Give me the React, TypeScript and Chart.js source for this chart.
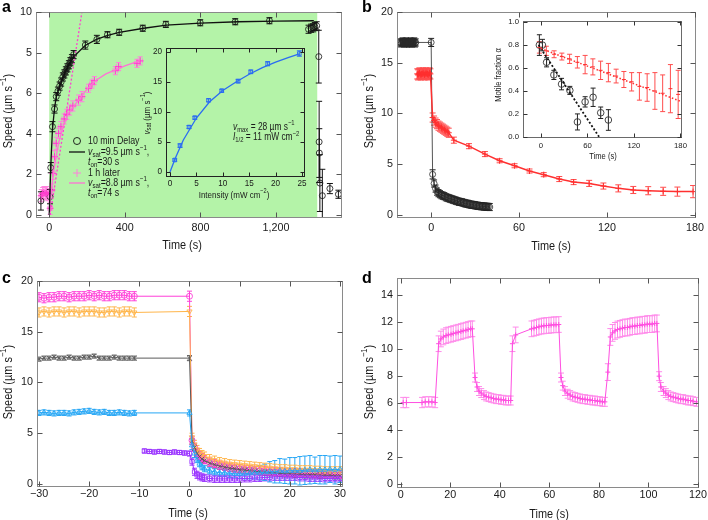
import React, { useEffect, useRef } from 'react';
import { Chart, registerables } from 'chart.js';
Chart.register(...registerables);

// ---------------- DATA ----------------
// Panel a: 10 min delay (black circles)
const A_DELAY_T = [-44, 4, 8, 17, 28, 37, 46, 55, 63, 72, 80, 88, 96, 104, 112, 120, 129, 191, 252, 308, 370, 495, 617, 799, 984, 1165, 1372, 1385, 1395, 1405, 1415, 1426, 1428, 1429, 1432, 1445, 1485, 1530];
const A_DELAY_V = [0.69, 0.9, 2.33, 4.35, 5.22, 5.83, 6.1, 6.35, 6.55, 6.8, 6.95, 7.1, 7.25, 7.4, 7.55, 7.7, 7.9, 8.37, 8.65, 8.88, 9.0, 9.2, 9.39, 9.47, 9.52, 9.57, 9.15, 9.2, 9.22, 9.28, 9.32, 7.8, 3.6, 3.05, 1.57, 0.95, 1.3, 1.02];
const A_DELAY_E = [0.45, 0.35, 0.25, 0.25, 0.2, 0.2, 0.2, 0.2, 0.2, 0.2, 0.2, 0.2, 0.2, 0.2, 0.2, 0.2, 0.2, 0.2, 0.2, 0.15, 0.15, 0.15, 0.15, 0.15, 0.15, 0.15, 0.2, 0.2, 0.2, 0.2, 0.2, 1.3, 2.0, 1.2, 1.4, 1.3, 0.25, 0.2];
// Panel a: 1 h later (pink crosses)
const A_LATER_T = [-42, -35, -28, -21, -14, -7, 5, 14, 19, 28, 37, 49, 62, 79, 93, 108, 125, 155, 173, 208, 226, 239, 350, 367, 464, 481];
const A_LATER_V = [0.95, 1.05, 1.1, 1.05, 1.1, 1.0, 0.33, 1.23, 2.05, 2.87, 3.53, 4.02, 4.35, 4.73, 4.96, 5.17, 5.37, 5.66, 5.83, 6.24, 6.45, 6.62, 7.11, 7.31, 7.47, 7.59];
const A_LATER_E = [0.3, 0.3, 0.3, 0.3, 0.3, 0.3, 0.3, 0.3, 0.3, 0.3, 0.3, 0.25, 0.25, 0.25, 0.25, 0.25, 0.25, 0.25, 0.25, 0.2, 0.2, 0.2, 0.2, 0.2, 0.2, 0.2];
const A_LATER_EX = [12, 12, 12, 12, 12, 12, 12, 12, 12, 12, 12, 12, 12, 12, 12, 12, 12, 12, 12, 12, 12, 12, 12, 12, 12, 12];
// fits
const A_FIT1_T = [0, 5, 10, 17, 28, 37, 50, 60, 80, 100, 130, 190, 250, 310, 370, 500, 620, 800, 1000, 1200, 1400];
const A_FIT1_V = [0, 1.5, 2.8, 4.2, 5.25, 5.8, 6.2, 6.45, 6.95, 7.35, 7.8, 8.35, 8.65, 8.85, 9.0, 9.2, 9.35, 9.45, 9.52, 9.55, 9.57];
const A_FIT2_T = [0, 10, 20, 30, 50, 75, 100, 150, 200, 250, 300, 350, 400, 480];
const A_FIT2_V = [0, 1.05, 1.9, 2.55, 3.55, 4.4, 5.0, 5.6, 6.2, 6.65, 6.95, 7.15, 7.35, 7.6];
const A_SLOPE_T = [5, 173];
const A_SLOPE_V = [0, 10];
const A_X_TICKS = [0, 400, 800, 1200];
const A_X_LABELS = ['0', '400', '800', '1,200'];
const A_Y_TICKS = [0, 2, 4, 6, 8, 10];
const A_Y_LABELS = ['0', '2', '4', '6', '5', '10'];
const A_LIGHT = [0, 1418];

// Panel a inset
const IA_I = [0.9, 1.9, 3.6, 4.7, 7.3, 9.8, 12.9, 15.3, 18.5, 24.5];
const IA_V = [2.0, 4.4, 7.5, 9.05, 11.95, 13.55, 15.15, 16.7, 18.05, 19.75];
const IA_E = [0.2, 0.3, 0.25, 0.25, 0.25, 0.25, 0.3, 0.3, 0.35, 0.45];
const IA_FIT_I = [0, 1, 2.5, 5, 7.5, 10, 12.5, 15, 17.5, 20, 22.5, 24.5];
const IA_FIT_V = [0, 2.3, 5.3, 9.0, 11.7, 13.6, 15.0, 16.3, 17.4, 18.3, 19.1, 19.7];
const IA_X_TICKS = [0, 5, 10, 15, 20, 25];
const IA_Y_TICKS = [0, 5, 10, 15, 20];

// Panel b
const B_BLACK_T = [-21, -20.5, -20, -19.5, -19, -18.5, -18, -17.5, -17, -16.5, -16, -15.5, -15, -14.5, -14, -13.5, -13, -12.5, -12, -11.5, -11, -10.5, 0,
  1, 2, 3, 4, 5, 6, 7, 8, 9, 10, 11, 12, 13, 14, 15, 16, 17, 18, 19, 20, 21, 22, 23, 24, 25, 26, 27, 28, 29, 30, 31, 32, 33, 34, 35, 36, 37, 38, 39, 40];
const B_BLACK_V = [17.0, 16.9, 17.0, 17.1, 17.0, 16.9, 17.0, 17.0, 17.1, 16.9, 17.0, 17.0, 16.9, 17.0, 17.1, 17.0, 16.9, 17.0, 17.0, 17.1, 16.9, 17.0, 17.0,
  4.0, 3.1, 2.6, 2.3, 2.15, 2.05, 1.95, 1.9, 1.85, 1.75, 1.7, 1.65, 1.6, 1.55, 1.5, 1.45, 1.4, 1.35, 1.3, 1.28, 1.25, 1.2, 1.15, 1.12, 1.1, 1.05, 1.02, 1.0, 0.98, 0.95, 0.92, 0.9, 0.88, 0.86, 0.85, 0.83, 0.82, 0.8, 0.8, 0.78];
const B_RED_T = [-9.5, -9, -8.5, -8, -7.5, -7, -6.5, -6, -5.5, -5, -4.5, -4, -3.5, -3, -2.5, -2, -1.5, -1, -0.5,
  1, 2, 3, 4, 5, 6, 7, 8, 9, 10, 11, 12,
  15.5, 25.8, 36.7, 46.7, 56.9, 67.1, 76.8, 87.4, 97.2, 107.8, 117.5, 127.7, 137.9, 148.1, 158.3, 168, 178.7];
const B_RED_V = [13.9, 13.8, 13.9, 14.0, 13.9, 13.8, 13.9, 13.9, 14.0, 13.9, 13.8, 13.9, 14.0, 13.9, 13.9, 13.8, 13.9, 14.0, 13.9,
  9.6, 9.3, 9.1, 8.95, 8.8, 8.7, 8.6, 8.5, 8.4, 8.3, 8.2, 8.1,
  7.37, 6.78, 6.0, 5.34, 4.85, 4.33, 3.97, 3.54, 3.24, 3.11, 2.85, 2.62, 2.46, 2.39, 2.33, 2.3, 2.3];
const B_RED_E_SPARSE = [0.3, 0.25, 0.25, 0.2, 0.2, 0.2, 0.2, 0.25, 0.25, 0.3, 0.3, 0.35, 0.35, 0.4, 0.4, 0.45, 0.6];
const B_X_TICKS = [0, 60, 120, 180];
const B_Y_TICKS = [0, 5, 10, 15, 20];

// Panel b inset
const IB_BLACK_T = [-2, 2, 7.3, 16.7, 26.6, 37.3, 47.1, 57, 67.3, 77.1, 87];
const IB_BLACK_V = [0.8, 0.8, 0.65, 0.54, 0.46, 0.405, 0.13, 0.305, 0.345, 0.21, 0.147];
const IB_BLACK_E = [0.09, 0.05, 0.04, 0.04, 0.05, 0.035, 0.07, 0.045, 0.08, 0.05, 0.09];
const IB_BLACK_FIT_T = [-3, 75];
const IB_BLACK_FIT_V = [0.8, 0.0];
const IB_RED_T = [-2, 7, 17, 27, 37, 47, 57, 67, 77, 87, 97, 107, 117, 127, 137, 147, 157, 167, 177];
const IB_RED_V = [0.78, 0.75, 0.72, 0.7, 0.68, 0.65, 0.63, 0.61, 0.58, 0.56, 0.53, 0.5, 0.48, 0.44, 0.43, 0.4, 0.38, 0.42, 0.37];
const IB_RED_E = [0.05, 0.04, 0.03, 0.03, 0.04, 0.05, 0.08, 0.07, 0.08, 0.08, 0.06, 0.07, 0.08, 0.12, 0.12, 0.16, 0.16, 0.21, 0.21];
const IB_RED_FIT_T = [0, 180];
const IB_RED_FIT_V = [0.77, 0.31];
const IB_X_TICKS = [0, 60, 120, 180];
const IB_Y_TICKS = [0, 0.2, 0.4, 0.6, 0.8, 1.0];
const IB_Y_LABELS = ['0.0', '0.2', '0.4', '0.6', '0.8', '1.0'];

// Panel c
const C_T_PRE = [-30, -29, -28, -27, -26, -25, -24, -23, -22, -21, -20, -19, -18, -17, -16, -15, -14, -13, -12, -11];
const C_T_PRE_PURPLE = [-9, -8, -7, -6, -5, -4, -3, -2, -1];
const C_T_POST = [0, 0.5, 1, 1.5, 2, 2.5, 3, 4, 5, 6, 7, 8, 9, 10, 11, 12, 13, 14, 15, 16, 17, 18, 19, 20, 21, 22, 23, 24, 25, 26, 27, 28, 29, 30];
const C_MAG_PRE = [18.4, 18.3, 18.4, 18.4, 18.5, 18.5, 18.4, 18.5, 18.5, 18.5, 18.6, 18.5, 18.6, 18.5, 18.5, 18.6, 18.6, 18.6, 18.5, 18.5];
const C_MAG_POST = [18.5, 4.3, 3.6, 3.1, 2.8, 2.6, 2.4, 2.15, 2.0, 1.85, 1.75, 1.65, 1.55, 1.5, 1.45, 1.4, 1.35, 1.3, 1.3, 1.25, 1.2, 1.2, 1.15, 1.1, 1.1, 1.1, 1.05, 1.05, 1.0, 1.0, 1.0, 0.95, 0.95, 0.95];
const C_ORA_PRE = [16.9, 17.0, 16.9, 17.0, 17.0, 16.9, 17.0, 17.0, 16.9, 17.0, 17.0, 17.0, 16.9, 16.9, 17.0, 17.0, 16.9, 17.0, 17.0, 16.9];
const C_ORA_POST = [17.0, 4.6, 3.9, 3.4, 3.1, 2.9, 2.75, 2.5, 2.35, 2.2, 2.1, 2.0, 1.95, 1.9, 1.85, 1.8, 1.75, 1.7, 1.65, 1.6, 1.55, 1.5, 1.5, 1.45, 1.45, 1.4, 1.4, 1.4, 1.35, 1.35, 1.3, 1.3, 1.3, 1.3];
const C_GRY_PRE = [12.3, 12.4, 12.4, 12.5, 12.4, 12.4, 12.5, 12.4, 12.4, 12.5, 12.5, 12.6, 12.4, 12.4, 12.4, 12.5, 12.4, 12.4, 12.4, 12.4];
const C_GRY_POST = [12.4, 4.2, 3.6, 3.0, 2.7, 2.45, 2.3, 2.05, 1.9, 1.75, 1.65, 1.55, 1.5, 1.4, 1.35, 1.3, 1.25, 1.2, 1.15, 1.1, 1.1, 1.05, 1.0, 1.0, 0.95, 0.95, 0.9, 0.9, 0.9, 0.85, 0.85, 0.85, 0.8, 0.8];
const C_CYA_PRE = [7.0, 7.05, 7.0, 6.95, 7.0, 7.0, 6.95, 7.05, 7.1, 7.15, 7.2, 7.1, 7.05, 7.1, 7.0, 7.0, 7.05, 7.0, 6.95, 7.0];
const C_CYA_POST = [7.0, 3.8, 3.0, 2.4, 2.0, 1.7, 1.5, 1.3, 1.2, 1.1, 1.1, 1.05, 1.0, 1.0, 1.0, 1.05, 1.1, 1.1, 1.15, 1.2, 1.2, 1.3, 1.25, 1.3, 1.3, 1.3, 1.35, 1.4, 1.35, 1.4, 1.4, 1.45, 1.4, 1.45];
const C_CYA_POST_E = [0.3, 0.4, 0.4, 0.3, 0.3, 0.3, 0.3, 0.3, 0.3, 0.35, 0.35, 0.4, 0.4, 0.45, 0.5, 0.55, 0.6, 0.7, 0.8, 1.0, 1.1, 1.2, 1.2, 1.3, 1.3, 1.4, 1.4, 1.4, 1.3, 1.4, 1.4, 1.3, 1.4, 1.3];
const C_PUR_PRE = [3.25, 3.2, 3.15, 3.2, 3.15, 3.1, 3.15, 3.1, 3.05];
const C_PUR_POST = [3.0, 2.2, 1.2, 0.9, 0.75, 0.65, 0.6, 0.55, 0.5, 0.5, 0.5, 0.5, 0.5, 0.5, 0.55, 0.55, 0.6, 0.6, 0.65, 0.65, 0.7, 0.7, 0.7, 0.7, 0.7, 0.65, 0.65, 0.6, 0.6, 0.6, 0.55, 0.55, 0.55, 0.55];
const C_X_TICKS = [-30, -20, -10, 0, 10, 20, 30];
const C_X_LABELS = ['\u221230', '\u221220', '\u221210', '0', '10', '20', '30'];
const C_Y_TICKS = [0, 5, 10, 15, 20];

// Panel d
const D_T = [1, 2.3, 8.6, 9.9, 11.3, 12.6, 13.9,
  15.3, 16.2, 17.2, 18.3, 19.2, 20.3, 21.2, 22.3, 23.2, 24.3, 25.2, 26.3, 27.2, 28.2, 28.9,
  30, 30.8, 31.6, 32.5, 33.6, 34.5, 35.5, 36.5, 37.5, 38.5, 39.5, 40.5, 41.5, 42.4, 43.5, 44.4,
  45.1, 46.4, 52.8, 53.8, 54.8, 55.8, 56.8, 57.8, 58.8, 59.8, 60.7, 61.8, 62.7, 63.8,
  64.7, 65.4, 66.3, 67.4, 68.4, 69.4, 70.4, 71.4, 72.4, 73.4, 74.4, 75.4, 76.4, 77.4, 78.4, 79.4, 80.4, 81.4, 82.4,
  83.6, 84.6, 85.5, 86.5, 87.5, 88.5, 89.5, 90.5, 91.5, 92.5, 93.5, 94.5, 95.5, 96.5, 97.5, 98.5, 99.5, 100.5, 101.5, 102.5, 103.4,
  104.3, 105, 106.1, 107, 108, 109, 110, 111, 112, 113, 114, 115, 116, 117, 118, 119.4];
const D_V = [6.05, 6.05, 6.05, 6.1, 6.1, 6.1, 6.05,
  10.4, 10.75, 10.9, 11.0, 11.05, 11.1, 11.15, 11.2, 11.25, 11.3, 11.35, 11.4, 11.45, 11.5, 11.5,
  7.9, 7.2, 6.9, 6.75, 6.6, 6.5, 6.45, 6.4, 6.35, 6.3, 6.3, 6.25, 6.25, 6.2, 6.2, 6.2,
  10.4, 11.05, 11.5, 11.55, 11.6, 11.65, 11.7, 11.72, 11.75, 11.75, 11.78, 11.8, 11.8, 11.82,
  7.9, 7.3, 6.9, 6.7, 6.6, 6.5, 6.45, 6.4, 6.35, 6.3, 6.3, 6.25, 6.25, 6.2, 6.2, 6.15, 6.15, 6.1, 6.1,
  8.3, 10.9, 11.2, 11.35, 11.45, 11.5, 11.55, 11.6, 11.6, 11.65, 11.7, 11.7, 11.75, 11.75, 11.8, 11.8, 11.85, 11.85, 11.85, 11.9, 11.9,
  8.0, 7.2, 6.9, 6.75, 6.6, 6.5, 6.45, 6.4, 6.35, 6.3, 6.3, 6.25, 6.2, 6.2, 6.15, 6.1];
const D_PHASE_N = [7, 15, 16, 14, 19, 21, 16];
const D_PHASE_E = [0.38, 0.58, 0.33, 0.58, 0.33, 0.62, 0.33];
const D_X_TICKS = [0, 20, 40, 60, 80, 100, 120];
const D_Y_TICKS = [0, 2, 4, 6, 8, 10, 12, 14];

// ---------------- helpers ----------------
const rep = (v: number, n: number): number[] => new Array(n).fill(v);
const pts = (xs: number[], ys: number[]) => xs.map((x, i) => ({ x, y: ys[i] }));
const lbl = (a: number[]) => a.map((v) => String(v));

const FONT = { fam: '"Liberation Sans", Arial, sans-serif', xs: 0.84, tickScale: 0.86 };
function fontAvailable(name: string): boolean {
  try {
    const ctx = document.createElement('canvas').getContext('2d');
    if (!ctx) return false;
    const s = 'abcdefghijklmnopqrstuvwxyzWM0123456789';
    ctx.font = '40px monospace';
    const a = ctx.measureText(s).width;
    ctx.font = `40px "${name}", monospace`;
    const b = ctx.measureText(s).width;
    ctx.font = '40px serif';
    const c = ctx.measureText(s).width;
    ctx.font = `40px "${name}", serif`;
    const d = ctx.measureText(s).width;
    return a !== b || c !== d;
  } catch (e) {
    return false;
  }
}
function initFont() {
  if (fontAvailable('Liberation Sans Narrow')) {
    FONT.fam = '"Liberation Sans Narrow", "Liberation Sans", Arial, sans-serif';
    FONT.xs = 1;
    FONT.tickScale = 1;
  }
}

type Seg = { t: string; sup?: boolean; sub?: boolean; it?: boolean };
type TextItem = { segs: Seg[]; x: number; y: number; size: number; align?: 'left' | 'center'; rot?: boolean; color?: string; bold?: boolean; base?: CanvasTextBaseline };

function drawText(ctx: CanvasRenderingContext2D, t: TextItem) {
  const fam = t.bold ? '"Liberation Sans", Arial, sans-serif' : FONT.fam;
  const xs = t.bold ? 1 : FONT.xs;
  ctx.save();
  ctx.translate(t.x, t.y);
  if (t.rot) ctx.rotate(-Math.PI / 2);
  ctx.scale(xs, 1);
  ctx.fillStyle = t.color || '#1a1a1a';
  ctx.textAlign = 'left';
  ctx.textBaseline = t.base || 'middle';
  const fonts = t.segs.map((s) => `${t.bold ? 'bold ' : ''}${s.it ? 'italic ' : ''}${s.sup || s.sub ? t.size * 0.7 : t.size}px ${fam}`);
  const widths = t.segs.map((s, i) => {
    ctx.font = fonts[i];
    return ctx.measureText(s.t).width;
  });
  const total = widths.reduce((a, b) => a + b, 0);
  let cx = t.align === 'center' ? -total / 2 : 0;
  t.segs.forEach((s, i) => {
    ctx.font = fonts[i];
    const dy = s.sup ? -t.size * 0.36 : s.sub ? t.size * 0.28 : 0;
    ctx.fillText(s.t, cx, dy);
    cx += widths[i];
  });
  ctx.restore();
}

const SPEED: Seg[] = [{ t: 'Speed (\u00b5m s' }, { t: '\u22121', sup: true }, { t: ')' }];
const TIME: Seg[] = [{ t: 'Time (s)' }];

interface PanelCfg {
  canvas: HTMLCanvasElement;
  xr: [number, number];
  yr: [number, number];
  xTicks: number[];
  yTicks: number[];
  xLabels: string[];
  yLabels: string[];
  pad: { left: number; right: number; top: number; bottom: number };
  yW: number;
  xH: number;
  tickSize: number;
  xPad: number;
  yPad: number;
  frame: string;
  tickCol: string;
  tickLen: number;
  datasets: any[];
  texts: TextItem[];
  green?: { from: number; to: number; color: string };
  extra?: (ctx: CanvasRenderingContext2D) => void;
}

function makePanel(c: PanelCfg): Chart {
  const deco = {
    id: 'deco',
    beforeDatasetsDraw(chart: any) {
      const ctx: CanvasRenderingContext2D = chart.ctx;
      const ca = chart.chartArea;
      const xs = chart.scales.x;
      const ys = chart.scales.y;
      if (c.green) {
        const x0 = xs.getPixelForValue(c.green.from);
        const x1 = xs.getPixelForValue(c.green.to);
        ctx.save();
        ctx.fillStyle = c.green.color;
        ctx.fillRect(x0, ca.top, x1 - x0, ca.bottom - ca.top);
        ctx.restore();
      }
      ctx.save();
      ctx.beginPath();
      ctx.rect(ca.left, ca.top, ca.right - ca.left, ca.bottom - ca.top);
      ctx.clip();
      for (const ds of chart.data.datasets) {
        if (!ds.errY && !ds.errX) continue;
        ctx.strokeStyle = ds.errColor || ds.borderColor;
        ctx.lineWidth = ds.errWidth || 1;
        const cap = ds.cap ?? 3;
        ctx.beginPath();
        ds.data.forEach((p: any, i: number) => {
          const px = xs.getPixelForValue(p.x);
          const py = ys.getPixelForValue(p.y);
          if (ds.errY) {
            const e = ds.errY[i];
            const y0 = ys.getPixelForValue(p.y - e);
            const y1 = ys.getPixelForValue(p.y + e);
            ctx.moveTo(px, y0); ctx.lineTo(px, y1);
            ctx.moveTo(px - cap, y0); ctx.lineTo(px + cap, y0);
            ctx.moveTo(px - cap, y1); ctx.lineTo(px + cap, y1);
          }
          if (ds.errX) {
            const e = ds.errX[i];
            const x0 = xs.getPixelForValue(p.x - e);
            const x1 = xs.getPixelForValue(p.x + e);
            ctx.moveTo(x0, py); ctx.lineTo(x1, py);
            ctx.moveTo(x0, py - cap); ctx.lineTo(x0, py + cap);
            ctx.moveTo(x1, py - cap); ctx.lineTo(x1, py + cap);
          }
        });
        ctx.stroke();
      }
      ctx.restore();
    },
    afterDatasetsDraw(chart: any) {
      const ctx: CanvasRenderingContext2D = chart.ctx;
      const ca = chart.chartArea;
      const xs = chart.scales.x;
      const ys = chart.scales.y;
      const L = Math.round(ca.left) + 0.5;
      const R = Math.round(ca.right) - 0.5;
      const T = Math.round(ca.top) + 0.5;
      const B = Math.round(ca.bottom) - 0.5;
      ctx.save();
      ctx.lineWidth = 1;
      ctx.strokeStyle = c.frame;
      ctx.strokeRect(L, T, R - L, B - T);
      ctx.strokeStyle = c.tickCol;
      ctx.beginPath();
      for (const v of c.xTicks) {
        const p = Math.round(xs.getPixelForValue(v)) + 0.5;
        ctx.moveTo(p, B); ctx.lineTo(p, B - c.tickLen);
        ctx.moveTo(p, T); ctx.lineTo(p, T + c.tickLen);
      }
      for (const v of c.yTicks) {
        const p = Math.round(ys.getPixelForValue(v)) + 0.5;
        ctx.moveTo(L, p); ctx.lineTo(L + c.tickLen, p);
        ctx.moveTo(R, p); ctx.lineTo(R - c.tickLen, p);
      }
      ctx.stroke();
      ctx.restore();
    },
    afterDraw(chart: any) {
      const ctx: CanvasRenderingContext2D = chart.ctx;
      for (const t of c.texts) drawText(ctx, t);
      if (c.extra) c.extra(ctx);
    },
  };
  const tickFont = { family: FONT.fam, size: c.tickSize * FONT.tickScale };
  return new Chart(c.canvas, {
    type: 'scatter',
    data: { datasets: c.datasets },
    options: {
      animation: false,
      responsive: false,
      events: [],
      layout: { padding: c.pad },
      plugins: { legend: { display: false }, tooltip: { enabled: false } },
      scales: {
        x: {
          type: 'linear',
          min: c.xr[0],
          max: c.xr[1],
          afterBuildTicks: (s: any) => { s.ticks = c.xTicks.map((v) => ({ value: v })); },
          afterFit: (s: any) => { s.height = c.xH; },
          grid: { display: false, drawTicks: false },
          border: { display: false },
          ticks: { autoSkip: false, maxRotation: 0, minRotation: 0, padding: c.xPad, color: '#1a1a1a', font: tickFont, callback: (_v: any, i: number) => c.xLabels[i] },
        },
        y: {
          type: 'linear',
          min: c.yr[0],
          max: c.yr[1],
          afterBuildTicks: (s: any) => { s.ticks = c.yTicks.map((v) => ({ value: v })); },
          afterFit: (s: any) => { s.width = c.yW; },
          grid: { display: false, drawTicks: false },
          border: { display: false },
          ticks: { autoSkip: false, padding: c.yPad, color: '#1a1a1a', font: tickFont, callback: (_v: any, i: number) => c.yLabels[i] },
        },
      },
    } as any,
    plugins: [deco as any],
  });
}

const NONE = 'rgba(0,0,0,0)';
const PINK = '#ff3fcf';
const PINK_ERR = '#ff80dc';
const PINK_FIT = '#ff72d6';
const BLUE = '#2b6cf2';
const RED = '#ff3030';
const RED_ERR = '#ff4d4d';
const MAG = '#ff3fd8';
const ORA = '#ffb54a';
const GRY = '#5a5a5a';
const CYA = '#25a6f5';
const PUR = '#9b35ff';
const DCOL = '#ff4fe0';
const DERR = '#ff8bea';

const CANVASES = [
  { l: 0, t: 0, w: 354, h: 260 },
  { l: 354, t: 0, w: 354, h: 260 },
  { l: 0, t: 260, w: 354, h: 260 },
  { l: 354, t: 260, w: 354, h: 260 },
  { l: 135, t: 38, w: 180, h: 172 },
  { l: 490, t: 12, w: 200, h: 158 },
];

function cSeries(tPre: number[], vPre: number[], vPost: number[], ePre: number, e0: number, ePost: number[], color: string, style: string, rot = 0) {
  return {
    data: pts([...tPre, ...C_T_POST], [...vPre, ...vPost]),
    showLine: true,
    borderColor: color,
    backgroundColor: NONE,
    borderWidth: 1,
    pointStyle: style,
    pointRotation: rot,
    pointRadius: 3,
    pointBorderWidth: 0.9,
    errY: [...rep(ePre, tPre.length), e0, ...ePost],
    errColor: color,
    cap: 2.5,
  };
}

export default function App() {
  const r0 = useRef<HTMLCanvasElement>(null);
  const r1 = useRef<HTMLCanvasElement>(null);
  const r2 = useRef<HTMLCanvasElement>(null);
  const r3 = useRef<HTMLCanvasElement>(null);
  const r4 = useRef<HTMLCanvasElement>(null);
  const r5 = useRef<HTMLCanvasElement>(null);
  const refs = [r0, r1, r2, r3, r4, r5];

  useEffect(() => {
    initFont();
    const main = { frame: '#8a8a8a', tickCol: '#555', tickLen: 5, tickSize: 12.5 };
    const charts: Chart[] = [];

    // ---- panel a ----
    charts.push(makePanel({
      ...main,
      canvas: r0.current!,
      xr: [-70, 1549], yr: [-0.15, 10],
      xTicks: A_X_TICKS, yTicks: A_Y_TICKS, xLabels: A_X_LABELS, yLabels: A_Y_LABELS,
      pad: { left: 0, right: 12, top: 12, bottom: 0 }, yW: 36, xH: 42, xPad: 4, yPad: 4,
      green: { from: A_LIGHT[0], to: A_LIGHT[1], color: '#b4f3a8' },
      datasets: [
        { data: pts(A_FIT1_T, A_FIT1_V), showLine: true, pointRadius: 0, borderColor: '#111', borderWidth: 1.3 },
        { data: pts(A_FIT2_T, A_FIT2_V), showLine: true, pointRadius: 0, borderColor: PINK_FIT, borderWidth: 1.3 },
        { data: pts(A_SLOPE_T, A_SLOPE_V), showLine: true, pointRadius: 0, borderColor: PINK, borderWidth: 1.3, borderDash: [2, 2] },
        { data: pts(A_LATER_T, A_LATER_V), showLine: false, pointStyle: 'cross', pointRadius: 3.5, borderColor: PINK, backgroundColor: NONE, pointBorderWidth: 1, errY: A_LATER_E, errX: A_LATER_EX, errColor: PINK_ERR, cap: 2.5 },
        { data: pts(A_DELAY_T, A_DELAY_V), showLine: false, pointStyle: 'circle', pointRadius: 3, borderColor: '#111', backgroundColor: NONE, pointBorderWidth: 0.8, errY: A_DELAY_E, errColor: '#111', cap: 3 },
      ],
      texts: [
        { segs: [{ t: 'a' }], x: 2, y: 12, size: 16, bold: true, base: 'alphabetic', color: '#000' },
        { segs: TIME, x: 182, y: 245, size: 13, align: 'center' },
        { segs: SPEED, x: 8, y: 111, size: 13, align: 'center', rot: true },
        { segs: [{ t: '10 min Delay' }], x: 88, y: 141, size: 10.5 },
        { segs: [{ t: 'v', it: true }, { t: 'sat', sub: true }, { t: '=9.5 \u00b5m s' }, { t: '\u22121', sup: true }, { t: ',' }], x: 88, y: 152, size: 10.5 },
        { segs: [{ t: 't', it: true }, { t: 'on', sub: true }, { t: '=30 s' }], x: 88, y: 162.5, size: 10.5 },
        { segs: [{ t: '1 h later' }], x: 88, y: 173, size: 10.5 },
        { segs: [{ t: 'v', it: true }, { t: 'sat', sub: true }, { t: '=8.8 \u00b5m s' }, { t: '\u22121', sup: true }, { t: ',' }], x: 88, y: 183, size: 10.5 },
        { segs: [{ t: 't', it: true }, { t: 'on', sub: true }, { t: '=74 s' }], x: 88, y: 193.5, size: 10.5 },
      ],
      extra: (ctx) => {
        ctx.save();
        ctx.strokeStyle = '#111';
        ctx.lineWidth = 0.9;
        ctx.beginPath(); ctx.arc(77, 141, 3.5, 0, Math.PI * 2); ctx.stroke();
        ctx.lineWidth = 1.3;
        ctx.beginPath(); ctx.moveTo(69, 152); ctx.lineTo(85, 152); ctx.stroke();
        ctx.strokeStyle = PINK_ERR; ctx.lineWidth = 1;
        ctx.beginPath(); ctx.moveTo(73, 173); ctx.lineTo(81, 173); ctx.moveTo(77, 169); ctx.lineTo(77, 177); ctx.stroke();
        ctx.strokeStyle = PINK_FIT; ctx.lineWidth = 1.3;
        ctx.beginPath(); ctx.moveTo(69, 183); ctx.lineTo(85, 183); ctx.stroke();
        ctx.restore();
      },
    }));

    // ---- panel b ----
    charts.push(makePanel({
      ...main,
      canvas: r1.current!,
      xr: [-23.3, 180.9], yr: [-0.3, 20],
      xTicks: B_X_TICKS, yTicks: B_Y_TICKS, xLabels: lbl(B_X_TICKS), yLabels: lbl(B_Y_TICKS),
      pad: { left: 0, right: 11, top: 12, bottom: 0 }, yW: 43, xH: 42, xPad: 4, yPad: 4,
      datasets: [
        { data: pts(B_RED_T, B_RED_V), showLine: true, borderColor: RED, backgroundColor: NONE, borderWidth: 1.5, pointStyle: 'cross', pointRadius: 3, pointBorderWidth: 1, errY: [...rep(0.5, 19), ...rep(0.45, 12), ...B_RED_E_SPARSE], errColor: RED_ERR, cap: 3 },
        { data: pts(B_BLACK_T, B_BLACK_V), showLine: true, borderColor: '#2a2a2a', backgroundColor: NONE, borderWidth: 0.8, pointStyle: 'circle', pointRadius: 3, pointBorderWidth: 0.8, errY: [...rep(0.35, 22), 0.4, 0.45, ...rep(0.35, 39)], errColor: '#222', cap: 3 },
      ],
      texts: [
        { segs: [{ t: 'b' }], x: 8, y: 12, size: 16, bold: true, base: 'alphabetic', color: '#000' },
        { segs: TIME, x: 197, y: 246, size: 13, align: 'center' },
        { segs: SPEED, x: 15, y: 111, size: 13, align: 'center', rot: true },
      ],
    }));

    // ---- panel c ----
    charts.push(makePanel({
      ...main,
      canvas: r2.current!,
      xr: [-30.4, 30.6], yr: [-0.3, 20],
      xTicks: C_X_TICKS, yTicks: C_Y_TICKS, xLabels: C_X_LABELS, yLabels: lbl(C_Y_TICKS),
      pad: { left: 0, right: 11, top: 21, bottom: 0 }, yW: 37, xH: 33, xPad: 1, yPad: 4,
      datasets: [
        cSeries(C_T_PRE_PURPLE, C_PUR_PRE, C_PUR_POST, 0.2, 0.25, rep(0.35, 33), PUR, 'rect'),
        cSeries(C_T_PRE, C_CYA_PRE, C_CYA_POST, 0.25, 0.3, C_CYA_POST_E.slice(1), CYA, 'triangle'),
        cSeries(C_T_PRE, C_GRY_PRE, C_GRY_POST, 0.2, 0.25, rep(0.3, 33), GRY, 'crossRot'),
        cSeries(C_T_PRE, C_ORA_PRE, C_ORA_POST, 0.45, 0.5, rep(0.4, 33), ORA, 'triangle', 180),
        cSeries(C_T_PRE, C_MAG_PRE, C_MAG_POST, 0.45, 0.5, rep(0.4, 33), MAG, 'circle'),
      ],
      texts: [
        { segs: [{ t: 'c' }], x: 2, y: 23, size: 16, bold: true, base: 'alphabetic', color: '#000' },
        { segs: TIME, x: 188, y: 253, size: 13, align: 'center' },
        { segs: SPEED, x: 8, y: 122, size: 13, align: 'center', rot: true },
      ],
    }));

    // ---- panel d ----
    const dErr: number[] = [];
    D_PHASE_N.forEach((n, i) => dErr.push(...rep(D_PHASE_E[i], n)));
    charts.push(makePanel({
      ...main,
      canvas: r3.current!,
      xr: [-1.5, 120.3], yr: [-0.27, 15.26],
      xTicks: D_X_TICKS, yTicks: D_Y_TICKS, xLabels: lbl(D_X_TICKS), yLabels: lbl(D_Y_TICKS),
      pad: { left: 0, right: 5, top: 18, bottom: 0 }, yW: 43, xH: 32, xPad: 1, yPad: 4,
      datasets: [
        { data: pts(D_T, D_V), showLine: true, borderColor: DCOL, backgroundColor: NONE, borderWidth: 1, pointStyle: 'cross', pointRadius: 2.5, pointBorderWidth: 1, errY: dErr, errColor: DERR, cap: 3 },
      ],
      texts: [
        { segs: [{ t: 'd' }], x: 8, y: 23, size: 16, bold: true, base: 'alphabetic', color: '#000' },
        { segs: TIME, x: 195, y: 254, size: 13, align: 'center' },
        { segs: SPEED, x: 15, y: 122, size: 13, align: 'center', rot: true },
      ],
    }));

    // ---- inset a ----
    charts.push(makePanel({
      canvas: r4.current!,
      frame: '#222', tickCol: '#222', tickLen: 4, tickSize: 9.5,
      xr: [-0.76, 25.57], yr: [-0.83, 20.67],
      xTicks: IA_X_TICKS, yTicks: IA_Y_TICKS, xLabels: lbl(IA_X_TICKS), yLabels: lbl(IA_Y_TICKS),
      pad: { left: 0, right: 10, top: 10, bottom: 0 }, yW: 31, xH: 33, xPad: 2, yPad: 4,
      datasets: [
        { data: pts(IA_FIT_I, IA_FIT_V), showLine: true, pointRadius: 0, borderColor: BLUE, borderWidth: 1.3 },
        { data: pts(IA_I, IA_V), showLine: false, pointStyle: 'rect', pointRadius: 2.5, borderColor: BLUE, backgroundColor: NONE, pointBorderWidth: 1, errY: IA_E, errColor: BLUE, cap: 2.5 },
      ],
      texts: [
        { segs: [{ t: 'Intensity (mW cm' }, { t: '\u22122', sup: true }, { t: ')' }], x: 99, y: 157, size: 9.5, align: 'center' },
        { segs: [{ t: 'v', it: true }, { t: 'sat', sub: true }, { t: ' (\u00b5m s' }, { t: '\u22121', sup: true }, { t: ')' }], x: 12, y: 75, size: 9.5, align: 'center', rot: true },
        { segs: [{ t: 'v', it: true }, { t: 'max', sub: true }, { t: ' = 28 \u00b5m s' }, { t: '\u22121', sup: true }], x: 98, y: 89, size: 10 },
        { segs: [{ t: 'I', it: true }, { t: '1/2', sub: true }, { t: ' = 11 mW cm' }, { t: '\u22122', sup: true }], x: 98, y: 99.5, size: 10 },
      ],
    }));

    // ---- inset b ----
    charts.push(makePanel({
      canvas: r5.current!,
      frame: '#6a6a6a', tickCol: '#333', tickLen: 4, tickSize: 9,
      xr: [-23.1, 181.3], yr: [-0.01, 1.01],
      xTicks: IB_X_TICKS, yTicks: IB_Y_TICKS, xLabels: lbl(IB_X_TICKS), yLabels: IB_Y_LABELS,
      pad: { left: 0, right: 8, top: 9, bottom: 0 }, yW: 33, xH: 32, xPad: 3, yPad: 4,
      datasets: [
        { data: pts(IB_RED_FIT_T, IB_RED_FIT_V), showLine: true, pointRadius: 0, borderColor: RED, borderWidth: 1.5, borderDash: [1.5, 2] },
        { data: pts(IB_BLACK_FIT_T, IB_BLACK_FIT_V), showLine: true, pointRadius: 0, borderColor: '#111', borderWidth: 1.8, borderDash: [2, 2] },
        { data: pts(IB_RED_T, IB_RED_V), showLine: false, pointStyle: 'line', pointRadius: 2, borderColor: RED, backgroundColor: NONE, pointBorderWidth: 1, errY: IB_RED_E, errColor: RED_ERR, cap: 2.5 },
        { data: pts(IB_BLACK_T, IB_BLACK_V), showLine: false, pointStyle: 'circle', pointRadius: 3.3, borderColor: '#333', backgroundColor: NONE, pointBorderWidth: 0.9, errY: IB_BLACK_E, errColor: '#222', cap: 2.5 },
      ],
      texts: [
        { segs: TIME, x: 113, y: 145, size: 9, align: 'center' },
        { segs: [{ t: 'Motile fraction \u03b1' }], x: 9, y: 63, size: 9, align: 'center', rot: true },
      ],
    }));

    return () => charts.forEach((ch) => ch.destroy());
  }, []);

  return (
    <div style={{ position: 'absolute', left: 0, top: 0, width: 708, height: 520, background: '#fff', overflow: 'hidden' }}>
      {CANVASES.map((c, i) => (
        <canvas key={i} ref={refs[i]} width={c.w} height={c.h} style={{ position: 'absolute', left: c.l, top: c.t, width: c.w, height: c.h }} />
      ))}
    </div>
  );
}
